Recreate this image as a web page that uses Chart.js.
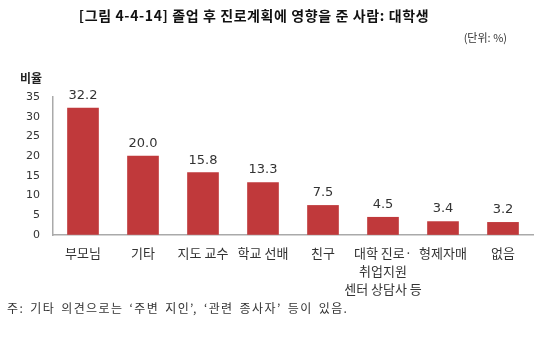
<!DOCTYPE html>
<html>
<head>
<meta charset="utf-8">
<script src="https://cdn.jsdelivr.net/npm/chart.js@4/dist/chart.umd.min.js"></script>
<style>
    body { margin: 0; background: #fff; font-family: "Noto Sans CJK KR", sans-serif; }
    #wrap { position: relative; width: 560px; height: 352px; }
    #title { position: absolute; left: 0; width: 508px; top: 5px; text-align: center; font-size: 14px; font-weight: bold; color: #111; letter-spacing: 0.6px; }
    #unit { position: absolute; right: 53px; top: 29px; font-size: 11px; color: #333; }
    #ylab { position: absolute; left: 20px; top: 69px; font-size: 12px; font-weight: bold; color: #222; }
    #note { position: absolute; left: 7px; top: 299px; font-size: 12px; color: #333; letter-spacing: 1.4px; word-spacing: 2px; }
    #chartBox { position: absolute; left: 0; top: 0; width: 560px; height: 352px; }
</style>
</head>
<body>
<div id="wrap">
    <div id="chartBox"><canvas id="myChart"></canvas></div>
    <div id="title">[그림 4-4-14] 졸업 후 진로계획에 영향을 준 사람: 대학생</div>
    <div id="unit">(단위: %)</div>
    <div id="ylab">비율</div>
    <div id="note">주: 기타 의견으로는 ‘주변 지인’, ‘관련 종사자’ 등이 있음.</div>
</div>
<script>
const categories = ['부모님', '기타', '지도 교수', '학교 선배', '친구', ['대학 진로·', '취업지원', '센터 상담사 등'], '형제자매', '없음'];
const values = [32.2, 20.0, 15.8, 13.3, 7.5, 4.5, 3.4, 3.2];
const yTicks = [0, 5, 10, 15, 20, 25, 30, 35];

// 막대 위 값 표시
const valueLabels = {
    id: 'valueLabels',
    afterDatasetsDraw(chart) {
        const ctx = chart.ctx;
        const meta = chart.getDatasetMeta(0);
        ctx.save();
        ctx.font = '13px "DejaVu Sans", sans-serif';
        ctx.fillStyle = '#333';
        ctx.textAlign = 'center';
        ctx.textBaseline = 'bottom';
        meta.data.forEach((bar, i) => {
            ctx.fillText(values[i].toFixed(1), bar.x, bar.y - 6);
        });
        ctx.restore();
    }
};

const ctx = document.getElementById('myChart').getContext('2d');
const myChart = new Chart(ctx, {
    type: 'bar',
    data: {
        labels: categories,
        datasets: [{
            data: values,
            backgroundColor: '#C0393B',
            barThickness: 31
        }]
    },
    options: {
        responsive: true,
        maintainAspectRatio: false,
        animation: false,
        layout: { padding: { top: 97, right: 27, left: 0, bottom: 0 } },
        plugins: { legend: { display: false }, tooltip: { enabled: false } },
        scales: {
            x: {
                grid: { drawOnChartArea: false, drawTicks: false },
                border: { color: '#aaa', width: 1.5 },
                ticks: {
                    color: '#333',
                    font: { family: '"Noto Sans CJK KR"', size: 13, lineHeight: 1.4 },
                    padding: 9,
                    maxRotation: 0,
                    autoSkip: false
                },
                afterFit: scale => { scale.height = 117; }
            },
            y: {
                min: 0,
                max: 35,
                afterBuildTicks: scale => { scale.ticks = yTicks.map(v => ({ value: v })); },
                grid: { drawOnChartArea: false, drawTicks: false },
                border: { color: '#aaa', width: 1.5 },
                ticks: {
                    color: '#333',
                    font: { family: '"DejaVu Sans"', size: 11 },
                    padding: 13
                },
                afterFit: scale => { scale.width = 53; }
            }
        }
    },
    plugins: [valueLabels]
});
</script>
</body>
</html>
